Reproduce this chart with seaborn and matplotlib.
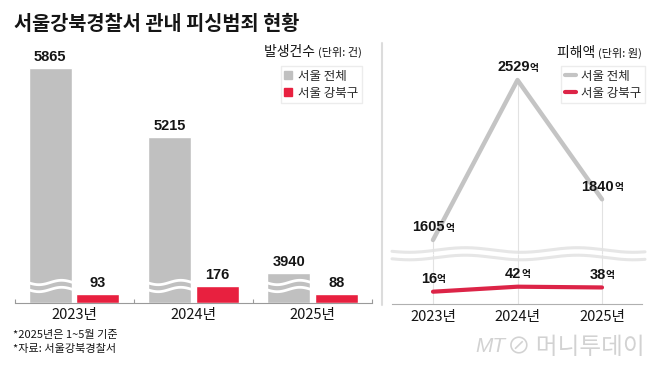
import numpy as np
import pandas as pd
import matplotlib
matplotlib.use('Agg')
import matplotlib.pyplot as plt
import matplotlib.transforms as mtransforms
from matplotlib.patches import Patch
from matplotlib.lines import Line2D
import seaborn as sns

# data
years = ['2023년', '2024년', '2025년']
regions = ['서울 전체', '서울 강북구']
cases_seoul = [5865, 5215, 3940]      # 발생건수 (건)
cases_gangbuk = [93, 176, 88]
damage_seoul = [1605, 2529, 1840]     # 피해액 (억 원)
damage_gangbuk = [16, 42, 38]

GRAY = '#c0c0c0'
RED = '#e8203f'
LINE_GRAY = '#c4c4c4'
LINE_RED = '#dc2447'
INK = '#151515'

sns.set_theme(style='white')
KR = ['Noto Sans CJK KR', 'Noto Sans CJK JP', 'DejaVu Sans']
NUM = ['Liberation Sans', 'DejaVu Sans']
plt.rcParams['font.family'] = KR

W, H = 658, 371
fig = plt.figure(figsize=(W / 100, H / 100), dpi=100)


def box(x0, y0, x1, y1):
    # pixel box (top-left origin) -> figure rect
    return [x0 / W, 1 - y1 / H, (x1 - x0) / W, (y1 - y0) / H]


def clean(ax):
    ax.set_xlabel('')
    ax.set_ylabel('')
    ax.patch.set_visible(False)
    for s in ax.spines.values():
        s.set_visible(False)
    ax.set_yticks([])


# ---------- left: 발생건수 (broken axis) ----------
df_cases = pd.DataFrame({
    'year': years * 2,
    'region': [regions[0]] * 3 + [regions[1]] * 3,
    'count': cases_seoul + cases_gangbuk,
})

ax_lo = fig.add_axes(box(14.5, 278, 372, 302.5))
ax_hi = fig.add_axes(box(14.5, 40, 372, 278), sharex=ax_lo)
for ax in (ax_lo, ax_hi):
    sns.barplot(data=df_cases, x='year', y='count', hue='region',
                palette=[GRAY, RED], saturation=1, width=0.8, gap=0.1,
                legend=False, ax=ax)
    clean(ax)
ax_lo.set_ylim(0, 263)
ax_hi.set_ylim(3890, 6128)
ax_lo.set_xlim(-0.5, 2.5)

lab_kw = dict(fontfamily=NUM, fontweight='bold', fontsize=10.5, padding=3, color=INK)
ax_hi.bar_label(ax_hi.containers[0], **lab_kw)
ax_lo.bar_label(ax_lo.containers[1], **lab_kw)

ax_hi.tick_params(axis='x', which='both', length=0, labelbottom=False)
ax_lo.spines['bottom'].set_visible(True)
ax_lo.spines['bottom'].set_color('#9a9a9a')
ax_lo.spines['bottom'].set_linewidth(0.8)
ax_lo.set_xticks([-0.5, 0.5, 1.5, 2.5], minor=True)
ax_lo.tick_params(axis='x', which='major', length=0, pad=4, labelsize=10.5, colors=INK)
ax_lo.tick_params(axis='x', which='minor', direction='in', length=3, width=0.8,
                  color='#9a9a9a', bottom=True)

# white break waves across the gray bars
trans = mtransforms.blended_transform_factory(ax_lo.transData, fig.transFigure)
for i in range(3):
    xs = np.linspace(i - 0.39, i - 0.01, 60)
    ph = (xs - xs[0]) / (xs[-1] - xs[0]) * 2 * np.pi
    for yp in (282.5, 289.5):
        ys = 1 - (yp + 2.2 * np.sin(ph)) / H
        ax_lo.plot(xs, ys, color='white', lw=2.0, transform=trans, clip_on=False, zorder=5)

ax_hi.legend(handles=[Patch(color=GRAY), Patch(color=RED)], labels=regions,
             loc='upper right', bbox_to_anchor=(362 / W, 1 - 66 / H),
             bbox_transform=fig.transFigure, borderaxespad=0, fontsize=9,
             handlelength=0.6, handleheight=0.6, handletextpad=0.5,
             labelspacing=0.3, borderpad=0.3, frameon=True, fancybox=False,
             edgecolor='#ececec', framealpha=1)
t1 = fig.text(362 / W, 1 - 52 / H, '(단위: 건)', ha='right', va='center', fontsize=8, color=INK)
ax_hi.annotate('발생건수 ', xy=(0, 0.5), xycoords=t1, ha='right', va='center',
               fontsize=10, color=INK, annotation_clip=False)

# ---------- right: 피해액 (broken axis) ----------
df_dmg = pd.DataFrame({'year': years, 'seoul': damage_seoul, 'gangbuk': damage_gangbuk})

ax_rlo = fig.add_axes(box(392, 254, 642, 304))
ax_rhi = fig.add_axes(box(392, 43, 642, 254), sharex=ax_rlo)
sns.lineplot(data=df_dmg, x='year', y='gangbuk', ax=ax_rlo, color=LINE_RED,
             linewidth=3, solid_capstyle='round', sort=False, zorder=3)
sns.lineplot(data=df_dmg, x='year', y='seoul', ax=ax_rhi, color=LINE_GRAY,
             linewidth=3.2, solid_capstyle='round', sort=False, zorder=3)
for ax in (ax_rlo, ax_rhi):
    clean(ax)
ax_rlo.set_ylim(-48, 212)
ax_rhi.set_ylim(1524, 2743)
ax_rlo.set_xlim(-0.485, 2.473)

xpos = np.arange(len(years))
ax_rhi.vlines(xpos, 1524, df_dmg['seoul'], color='#e2e2e2', lw=0.8, zorder=1)
ax_rlo.vlines(xpos, -48, 212, color='#e2e2e2', lw=0.8, zorder=1)

ax_rhi.tick_params(axis='x', which='both', length=0, labelbottom=False)
ax_rlo.spines['bottom'].set_visible(True)
ax_rlo.spines['bottom'].set_color('#b0b0b0')
ax_rlo.spines['bottom'].set_linewidth(0.8)
ax_rlo.tick_params(axis='x', length=0, pad=4, labelsize=10.5, colors=INK)

# gray break wave across the panel
trans_r = fig.transFigure
xs = np.linspace(392, 645, 200)
for yp in (250, 257.5):
    ys = 1 - (yp + 2.3 * np.sin((xs - 392) / 112 * 2 * np.pi + 0.6)) / H
    ax_rlo.plot(xs / W, ys, color='#e6e6e6', lw=2.2, transform=trans_r, clip_on=False, zorder=0.5)


def eok_label(ax, x, v):
    t = ax.annotate(f'{v}', xy=(x, v), xytext=(-3, 4), textcoords='offset points',
                    ha='center', va='bottom', fontfamily=NUM, fontweight='bold',
                    fontsize=10.5, color=INK)
    ax.annotate('억', xy=(1, 0.12), xycoords=t, ha='left', va='bottom',
                fontsize=7, fontweight='bold', color=INK)


for i, v in enumerate(damage_seoul):
    eok_label(ax_rhi, i, v)
for i, v in enumerate(damage_gangbuk):
    eok_label(ax_rlo, i, v)

ax_rhi.legend(handles=[Line2D([], [], color=LINE_GRAY, lw=3),
                       Line2D([], [], color=LINE_RED, lw=3)], labels=regions,
              loc='upper right', bbox_to_anchor=(645 / W, 1 - 66 / H),
              bbox_transform=fig.transFigure, borderaxespad=0, fontsize=9,
              handlelength=0.9, handletextpad=0.4, labelspacing=0.3,
              borderpad=0.3, frameon=True, fancybox=False,
              edgecolor='#ececec', framealpha=1)
t2 = fig.text(642 / W, 1 - 53 / H, '(단위: 원)', ha='right', va='center', fontsize=8, color=INK)
ax_rhi.annotate('피해액 ', xy=(0, 0.5), xycoords=t2, ha='right', va='center',
                fontsize=10, color=INK, annotation_clip=False)

# ---------- decorations ----------
fig.add_artist(Line2D([382 / W, 382 / W], [1 - 43 / H, 1 - 305 / H],
                      transform=fig.transFigure, color='#dcdcdc', lw=1.5))
fig.text(14 / W, 1 - 24 / H, '서울강북경찰서 관내 피싱범죄 현황', ha='left', va='center',
         fontsize=14.2, fontweight='bold', color=INK)
fig.text(13 / W, 1 - 335 / H, '*2025년은 1~5월 기준', ha='left', va='center',
         fontsize=8, color=INK)
fig.text(13 / W, 1 - 349 / H, '*자료: 서울강북경찰서', ha='left', va='center',
         fontsize=8, color=INK)
fig.text(505 / W, 1 - 347 / H, 'MT', ha='right', va='center', fontsize=15,
         style='italic', color='#d2d2d2', fontfamily=NUM)
fig.text(645 / W, 1 - 347 / H, '⊘ 머니투데이', ha='right', va='center', fontsize=17,
         color='#d2d2d2', fontfamily=['Noto Sans CJK KR', 'DejaVu Sans'])

fig.savefig('out.png', dpi=100)
